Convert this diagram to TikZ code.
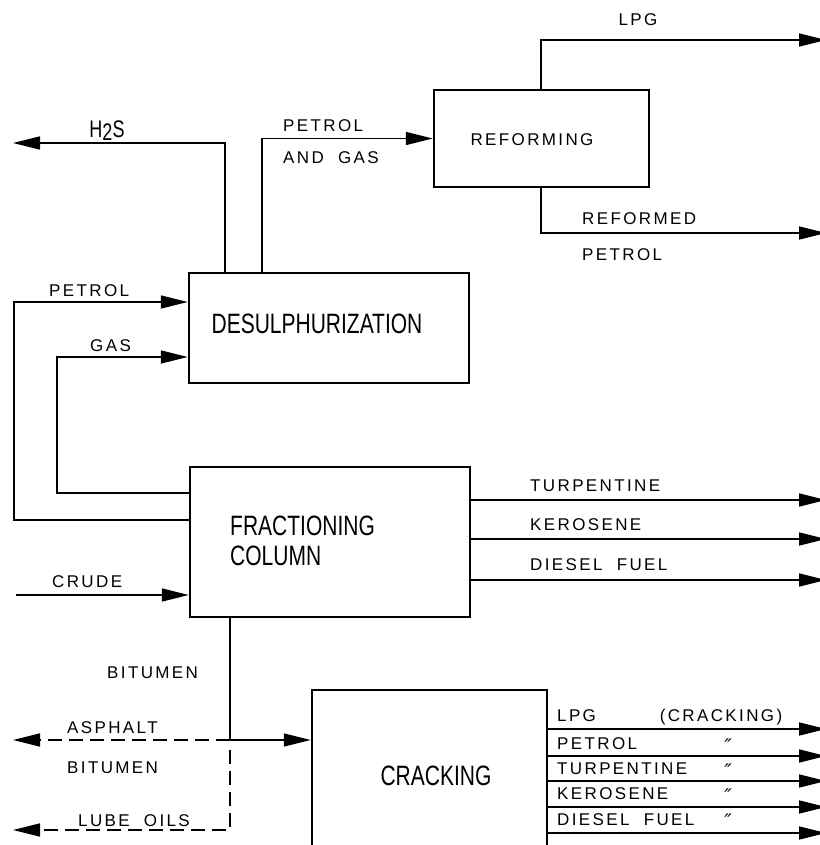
\documentclass[tikz,border=0pt]{standalone}
\usepackage{fontspec}
\setmainfont{Liberation Sans}
\newfontfamily\lblfont[LetterSpace=14,WordSpace=2]{Liberation Sans}
\newfontfamily\boxfont[FakeStretch=0.75]{Liberation Sans}
\newfontfamily\symfont{DejaVu Sans}
\usetikzlibrary{arrows.meta}
\begin{document}
\begin{tikzpicture}[x=1pt,y=-1pt,
  flow/.style={line width=1.5pt},
  arr/.style={flow,-{Triangle[length=27pt,width=13pt]}},
  dasharr/.style={arr,dash pattern=on 14pt off 7pt},
  unit/.style={draw,line width=2.4pt,inner sep=0pt},
  lbl/.style={font=\lblfont\fontsize{17}{17}\selectfont,inner sep=0pt,text height=12.2pt,text depth=0pt},
  boxtxt/.style={font=\boxfont\fontsize{28}{30}\selectfont,inner sep=0pt},
  ditto/.style={font=\symfont\itshape\fontsize{20}{20}\selectfont,inner sep=0pt},
]
\path[use as bounding box,fill=white] (0,0) rectangle (819,845);

% units
\node[unit,minimum width=215pt,minimum height=97pt] (ref) at (541.5,138.5) {};
\node[unit,minimum width=280pt,minimum height=110pt] (des) at (329,328) {};
\node[unit,minimum width=280pt,minimum height=150pt] (frac) at (330,542) {};
\node[unit,minimum width=235pt,minimum height=210pt] (crack) at (429.5,795) {};

\node[lbl] (reftxt) at (532,139) {REFORMING};
\node[boxtxt] (destxt) at (317,324) {DESULPHURIZATION};
\node[boxtxt,anchor=west,align=left] (fractxt) at (230,541) {FRACTIONING\\COLUMN};
\node[boxtxt] (cracktxt) at (436,776) {CRACKING};

% free ends
\coordinate (h2send) at (13,143);
\coordinate (lpgend) at (826,40);
\coordinate (rpend) at (826,233);
\coordinate (pbend) at (14,400);
\coordinate (gbend) at (57,420);
\coordinate (crudestart) at (16,595);
\coordinate (turpend) at (826,500);
\coordinate (keroend) at (826,539);
\coordinate (dieselend) at (826,580);
\coordinate (bj) at (230,740);
\coordinate (asphend) at (13,740);
\coordinate (lubeend) at (13,830);

% connectors
\draw[arr] ([xshift=37pt]des.north west) |- (h2send);
\draw[arr] ([xshift=74pt]des.north west) |- (ref.west);
\draw[arr] ([xshift=108pt]ref.north west) |- (lpgend);
\draw[arr] ([xshift=108pt]ref.south west) |- (rpend);
\draw[arr] ([yshift=22pt]frac.west) -| (pbend) |- ([yshift=26pt]des.west);
\draw[arr] ([yshift=49pt]frac.west) -| (gbend) |- ([yshift=-29pt]des.west);
\draw[arr] (crudestart) -- ([yshift=-53pt]frac.west);
\draw[arr] (frac.east |- turpend) -- (turpend);
\draw[arr] (frac.east |- keroend) -- (keroend);
\draw[arr] (frac.east |- dieselend) -- (dieselend);
\draw[arr] (frac.south -| bj) -- (bj) -- (crack.west |- bj);
\draw[dasharr] (bj) -- (asphend);
\draw[dasharr] ([yshift=-10pt]bj) -- (bj |- lubeend) -- (lubeend);
\foreach \yy [count=\i] in {729,756,781,807,833}{
  \coordinate (cr\i) at (826,\yy);
  \draw[arr] (crack.east |- cr\i) -- (cr\i);
}

% labels
\node[lbl] at (638,19) {LPG};
\node[lbl,anchor=west] at (582,218) {REFORMED};
\node[lbl,anchor=west] at (582,254) {PETROL};
\node[boxtxt,font=\boxfont\fontsize{24}{24}\selectfont] at (107,131) {H\raisebox{-3pt}{2}S};
\node[lbl,anchor=west] at (283,125) {PETROL};
\node[lbl,anchor=west] at (283,157) {AND GAS};
\node[lbl,anchor=west] at (49,290) {PETROL};
\node[lbl,anchor=west] at (90,345) {GAS};
\node[lbl,anchor=west] at (52,581) {CRUDE};
\node[lbl,anchor=west] at (530,485) {TURPENTINE};
\node[lbl,anchor=west] at (530,524) {KEROSENE};
\node[lbl,anchor=west] at (530,564) {DIESEL FUEL};
\node[lbl,anchor=west] at (107,672) {BITUMEN};
\node[lbl,anchor=west] at (67,727) {ASPHALT};
\node[lbl,anchor=west] at (67,767) {BITUMEN};
\node[lbl,anchor=west] at (78,820) {LUBE OILS};
\node[lbl,anchor=west] at (557,715) {LPG};
\node[lbl] at (721,715) {(CRACKING)};
\node[lbl,anchor=west] at (557,743) {PETROL};
\node[lbl,anchor=west] at (557,768) {TURPENTINE};
\node[lbl,anchor=west] at (557,793) {KEROSENE};
\node[lbl,anchor=west] at (557,819) {DIESEL FUEL};
\foreach \yy in {746,771,796,821}{
  \node[ditto] at (728,\yy) {″};
}
\end{tikzpicture}
\end{document}
